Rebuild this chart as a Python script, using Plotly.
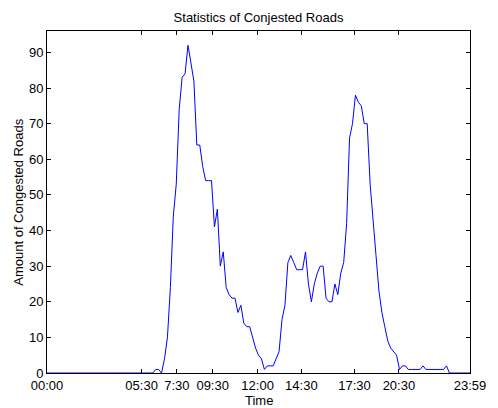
import plotly.graph_objects as go

# Samples (index along the day), amount of congested roads
congested = [0]*36 + [
    0, 1, 1, 0, 4, 10, 24, 44, 53, 74,        # 36-45
    83, 84, 92, 87, 82, 64, 64, 58, 54, 54,   # 46-55
    54, 41, 46, 30, 34, 24, 22, 21, 21, 17,   # 56-65
    19, 14, 13, 13, 10, 7, 5, 4, 1, 2,        # 66-75
    2, 2, 4, 6, 15, 19, 31, 33, 31, 29,       # 76-85
    29, 29, 34, 25, 20, 25, 28, 30, 30, 21,   # 86-95
    20, 20, 25, 22, 28, 31, 42, 66, 70, 78,   # 96-105
    76, 75, 70, 70, 53, 42, 33, 23, 17, 13,   # 106-115
    9, 7, 6, 5, 1, 2, 2, 1, 1, 1,             # 116-125
    1, 1, 2, 1, 1, 1, 1, 1, 1, 1,             # 126-135
    2, 0, 0, 0, 0, 0, 0, 0, 0,                # 136-144
]
sample_index = list(range(len(congested)))

tick_positions = [0, 32.2, 44.2, 56.4, 71.7, 86.6, 104.7, 119.8, 144]
tick_labels = ["00:00", "05:30", "7:30", "09:30", "12:00", "14:30", "17:30", "20:30", "23:59"]
y_ticks = list(range(0, 100, 10))

FONT = "Liberation Sans, Arial, Helvetica, sans-serif"

fig = go.Figure()
fig.add_trace(go.Scatter(
    x=sample_index, y=congested, mode="lines",
    line=dict(color="#0000FF", width=1), hoverinfo="skip", showlegend=False,
))

fig.update_layout(
    width=498, height=408,
    margin=dict(l=47, r=17, t=31, b=35, pad=0),
    paper_bgcolor="white", plot_bgcolor="white",
    font=dict(family=FONT, size=13, color="black"),
    title=dict(text="Statistics of Conjested Roads", x=0.5, xref="paper",
               y=1 - 17/408, yref="container", yanchor="middle", xanchor="center",
               font=dict(size=13, color="black")),
    xaxis=dict(range=[0, 144], tickmode="array", tickvals=tick_positions, ticktext=tick_labels,
               showgrid=False, zeroline=False, showline=True, linecolor="black", linewidth=1,
               mirror="allticks", ticks="inside", ticklen=4, tickcolor="black", tickwidth=1,
               layer="below traces", tickfont=dict(size=13)),
    yaxis=dict(range=[0, 96], tickmode="array", tickvals=y_ticks,
               showgrid=False, zeroline=False, showline=True, linecolor="black", linewidth=1,
               mirror="allticks", ticks="inside", ticklen=4, tickcolor="black", tickwidth=1,
               layer="below traces", tickfont=dict(size=13)),
    annotations=[
        dict(text="Time", x=0.5, xref="paper", y=-(400 - 373)/342, yref="paper",
             xanchor="center", yanchor="middle", showarrow=False, font=dict(size=13)),
        dict(text="Amount of Congested Roads", x=-(47 - 17)/434, xref="paper", y=0.5, yref="paper",
             xanchor="center", yanchor="middle", textangle=-90, showarrow=False, font=dict(size=13)),
    ],
)

fig.write_html("out.html", config={"displayModeBar": False},
               post_script="document.body.style.margin='0px';")
